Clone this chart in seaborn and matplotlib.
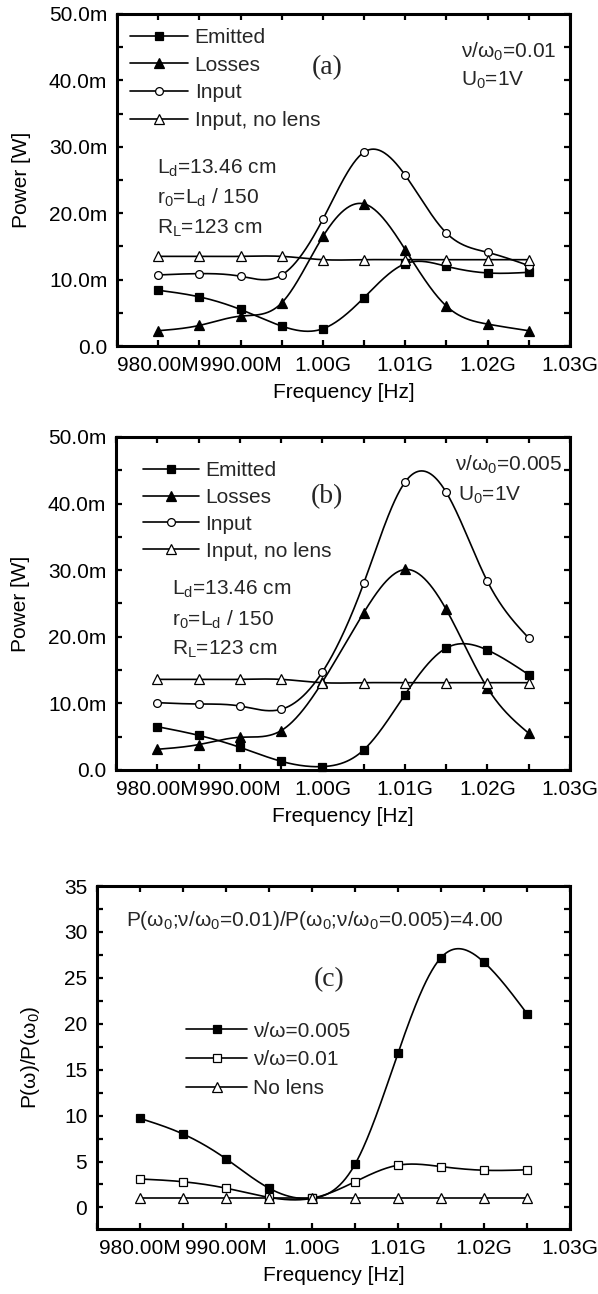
import numpy as np
import matplotlib
matplotlib.use("Agg")
import matplotlib.pyplot as plt
from matplotlib.lines import Line2D
from matplotlib.ticker import FixedLocator, FixedFormatter, MultipleLocator
import seaborn as sns

# ---------------------------------------------------------------- data
freq_mhz = [980, 985, 990, 995, 1000, 1005, 1010, 1015, 1020, 1025]

# panel (a): nu/omega0 = 0.01, powers in mW
a_emitted = [8.4, 7.4, 5.5, 3.0, 2.6, 7.3, 12.4, 12.0, 11.0, 11.1]
a_losses = [2.3, 3.1, 4.5, 6.5, 16.5, 21.4, 14.5, 6.0, 3.3, 2.3]
a_input = [10.7, 10.9, 10.5, 10.7, 19.1, 29.2, 25.7, 17.0, 14.1, 12.1]
a_nolens = [13.5, 13.5, 13.5, 13.5, 13.0, 13.0, 13.0, 13.0, 13.0, 13.0]

# panel (b): nu/omega0 = 0.005, powers in mW
b_emitted = [6.5, 5.2, 3.4, 1.3, 0.5, 3.0, 11.3, 18.3, 18.0, 14.3]
b_losses = [3.1, 3.8, 4.9, 5.9, 13.2, 23.6, 30.1, 24.1, 12.3, 5.5]
b_input = [10.1, 9.9, 9.6, 9.1, 14.7, 28.0, 43.2, 41.7, 28.3, 19.8]
b_nolens = [13.6, 13.6, 13.6, 13.6, 13.1, 13.1, 13.1, 13.1, 13.1, 13.1]

# panel (c): normalised power P(w)/P(w0)
c_005 = [9.7, 8.0, 5.3, 2.1, 1.0, 4.7, 16.8, 27.2, 26.7, 21.1]
c_001 = [3.1, 2.8, 2.1, 1.1, 1.0, 2.8, 4.6, 4.45, 4.05, 4.1]
c_nolens = [1.0, 1.0, 1.0, 1.0, 1.0, 1.0, 1.0, 1.0, 1.0, 1.0]

freq_ticks = [980, 990, 1000, 1010, 1020, 1030]
freq_tick_labels = ["980.00M", "990.00M", "1.00G", "1.01G", "1.02G", "1.03G"]
power_ticks = [0, 10, 20, 30, 40, 50]
power_tick_labels = ["0.0", "10.0m", "20.0m", "30.0m", "40.0m", "50.0m"]
ratio_ticks = [0, 5, 10, 15, 20, 25, 30, 35]
ratio_tick_labels = ["0", "5", "10", "15", "20", "25", "30", "35"]

power_labels = ["Emitted", "Losses", "Input", "Input, no lens"]
ratio_labels = ["ν/ω=0.005", "ν/ω=0.01", "No lens"]

# ---------------------------------------------------------------- style
sns.set_theme(style="ticks")
plt.rcParams["font.family"] = ["Liberation Sans", "DejaVu Sans"]
plt.rcParams["mathtext.fontset"] = "custom"
plt.rcParams["mathtext.rm"] = "Liberation Sans"
plt.rcParams["mathtext.it"] = "Liberation Sans:italic"
FS = 15
SUB = r"$_\mathregular{%s}$"


def natural_spline(x, y, n=400):
    """Smooth connecting curve (natural cubic spline) through the points."""
    x = np.asarray(x, float)
    y = np.asarray(y, float)
    k = len(x)
    h = np.diff(x)
    A = np.zeros((k, k))
    r = np.zeros(k)
    A[0, 0] = A[-1, -1] = 1.0
    for i in range(1, k - 1):
        A[i, i - 1] = h[i - 1]
        A[i, i] = 2 * (h[i - 1] + h[i])
        A[i, i + 1] = h[i]
        r[i] = 6 * ((y[i + 1] - y[i]) / h[i] - (y[i] - y[i - 1]) / h[i - 1])
    M = np.linalg.solve(A, r)
    xs = np.linspace(x[0], x[-1], n)
    idx = np.clip(np.searchsorted(x, xs) - 1, 0, k - 2)
    x0, x1 = x[idx], x[idx + 1]
    hh = x1 - x0
    a = (x1 - xs) / hh
    b = (xs - x0) / hh
    ys = (a * y[idx] + b * y[idx + 1]
          + ((a ** 3 - a) * M[idx] + (b ** 3 - b) * M[idx + 1]) * hh ** 2 / 6)
    return xs, ys


def draw_series(ax, x, y, marker, filled, ms):
    xs, ys = natural_spline(x, y)
    sns.lineplot(x=xs, y=ys, ax=ax, color="black", lw=1.2, sort=False,
                 estimator=None, legend=False)
    ax.plot(x, y, ls="none", marker=marker, ms=ms, mew=0.9, mec="black",
            mfc="black" if filled else "white", zorder=5, clip_on=False)


def style_axes(ax, yticks, ylabels, ylim, yminor):
    ax.set_xlim(975, 1030)
    ax.set_ylim(*ylim)
    ax.xaxis.set_major_locator(FixedLocator(freq_ticks))
    ax.xaxis.set_major_formatter(FixedFormatter(freq_tick_labels))
    ax.xaxis.set_minor_locator(MultipleLocator(5))
    ax.yaxis.set_major_locator(FixedLocator(yticks))
    ax.yaxis.set_major_formatter(FixedFormatter(ylabels))
    ax.yaxis.set_minor_locator(MultipleLocator(yminor))
    for s in ax.spines.values():
        s.set_visible(True)
        s.set_linewidth(2.2)
        s.set_color("black")
    ax.tick_params(which="both", direction="in", top=True, right=True,
                   length=4.5, width=1.6, color="black")
    ax.tick_params(axis="both", which="major", labelsize=FS, pad=7,
                   labelcolor="black")
    ax.set_xlabel("Frequency [Hz]", fontsize=FS, labelpad=6, color="black")


def legend(ax, labels, markers, fills, sizes, anchor, hl, spacing):
    handles = [Line2D([], [], color="black", lw=1.2, marker=m, ms=s,
                      mec="black", mfc="black" if f else "white", mew=0.9)
               for m, f, s in zip(markers, fills, sizes)]
    ax.legend(handles, labels, loc="upper left", bbox_to_anchor=anchor,
              frameon=False, fontsize=FS, handlelength=hl, handletextpad=0.3,
              labelspacing=spacing, borderpad=0, borderaxespad=0)


fig = plt.figure(figsize=(5.98, 12.94), dpi=100)
ax_a = fig.add_axes([0.1957, 0.7326, 0.7575, 0.2566])
ax_b = fig.add_axes([0.1940, 0.4050, 0.7592, 0.2573])
ax_c = fig.add_axes([0.1622, 0.0502, 0.7910, 0.2651])

pw_markers = ["s", "^", "o", "^"]
pw_fills = [True, True, False, False]
pw_sizes = [5.6, 6.6, 5.6, 6.6]

# ---------------------------------------------------------------- (a)
for ys, m, f, s in zip([a_emitted, a_losses, a_input, a_nolens],
                       pw_markers, pw_fills, pw_sizes):
    draw_series(ax_a, freq_mhz, ys, m, f, s)
style_axes(ax_a, power_ticks, power_tick_labels, (0, 50), 5)
ax_a.set_ylabel("Power [W]", fontsize=FS, labelpad=13, color="black")
legend(ax_a, power_labels, pw_markers, pw_fills, pw_sizes,
       (0.029, 0.958), 2.8, 0.42)
ax_a.text(0.463, 0.837, "(a)", transform=ax_a.transAxes, fontsize=20,
          family="Liberation Serif", ha="center", va="center")
ax_a.text(0.759, 0.886, "ν/ω" + SUB % "0" + "=0.01", transform=ax_a.transAxes,
          fontsize=FS, ha="left", va="center")
ax_a.text(0.759, 0.801, "U" + SUB % "0" + "=1V", transform=ax_a.transAxes,
          fontsize=FS, ha="left", va="center")
for yy, t in zip([0.536, 0.446, 0.355],
                 ["L" + SUB % "d" + "=13.46 cm",
                  "r" + SUB % "0" + "=L" + SUB % "d" + " / 150",
                  "R" + SUB % "L" + "=123 cm"]):
    ax_a.text(0.088, yy, t, transform=ax_a.transAxes, fontsize=FS,
              ha="left", va="center")

# ---------------------------------------------------------------- (b)
for ys, m, f, s in zip([b_emitted, b_losses, b_input, b_nolens],
                       pw_markers, pw_fills, pw_sizes):
    draw_series(ax_b, freq_mhz, ys, m, f, s)
style_axes(ax_b, power_ticks, power_tick_labels, (0, 50), 5)
ax_b.set_ylabel("Power [W]", fontsize=FS, labelpad=13, color="black")
legend(ax_b, power_labels, pw_markers, pw_fills, pw_sizes,
       (0.0595, 0.928), 2.7, 0.38)
ax_b.text(0.465, 0.820, "(b)", transform=ax_b.transAxes, fontsize=20,
          family="Liberation Serif", ha="center", va="center")
ax_b.text(0.747, 0.916, "ν/ω" + SUB % "0" + "=0.005", transform=ax_b.transAxes,
          fontsize=FS, ha="left", va="center")
ax_b.text(0.753, 0.826, "U" + SUB % "0" + "=1V", transform=ax_b.transAxes,
          fontsize=FS, ha="left", va="center")
for yy, t in zip([0.5435, 0.450, 0.363],
                 ["L" + SUB % "d" + "=13.46 cm",
                  "r" + SUB % "0" + "=L" + SUB % "d" + " / 150",
                  "R" + SUB % "L" + "=123 cm"]):
    ax_b.text(0.123, yy, t, transform=ax_b.transAxes, fontsize=FS,
              ha="left", va="center")

# ---------------------------------------------------------------- (c)
r_markers = ["s", "s", "^"]
r_fills = [True, False, False]
r_sizes = [5.6, 5.6, 6.6]
for ys, m, f, s in zip([c_005, c_001, c_nolens], r_markers, r_fills, r_sizes):
    draw_series(ax_c, freq_mhz, ys, m, f, s)
style_axes(ax_c, ratio_ticks, ratio_tick_labels, (-2.35, 35), 2.5)
ax_c.set_ylabel("P(ω)/P(ω" + SUB % "0" + ")", fontsize=FS, labelpad=16,
                color="black")
legend(ax_c, ratio_labels, r_markers, r_fills, r_sizes,
       (0.189, 0.605), 2.9, 0.47)
ax_c.text(0.061, 0.90,
          "P(ω" + SUB % "0" + ";ν/ω" + SUB % "0" + "=0.01)/P(ω" + SUB % "0"
          + ";ν/ω" + SUB % "0" + "=0.005)=4.00",
          transform=ax_c.transAxes, fontsize=FS, ha="left", va="center")
ax_c.text(0.49, 0.727, "(c)", transform=ax_c.transAxes, fontsize=20,
          family="Liberation Serif", ha="center", va="center")

fig.savefig("out.png", dpi=100)
